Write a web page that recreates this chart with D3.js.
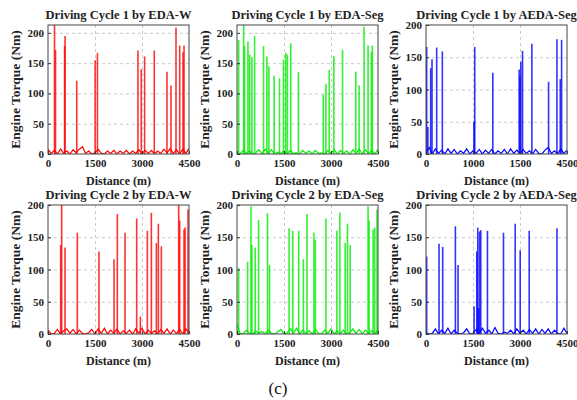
<!DOCTYPE html>
<html>
<head>
<meta charset="utf-8">
<script src="https://cdn.jsdelivr.net/npm/d3@7"></script>
<style>
    body { margin: 0; background: #fff; }
    svg text { font-family: "Liberation Serif", "Times New Roman", serif; }
    .grid line { stroke: #bdbdbd; stroke-dasharray: 3,3; stroke-width: 0.8; }
    .grid path { display: none; }
</style>
</head>
<body>
<svg id="chart" width="577" height="400"></svg>
<script>
// Tick values and labels
const xTicks = [0, 1500, 3000, 4500];
const xLabelsDefault = ['0', '1500', '3000', '4500'];
const xLabelsC1Aeda = ['0', '1000', '1500', '4500'];   // as printed in the original
const yTicks = [0, 50, 100, 150, 200];

// Baseline torque, sampled every 100 m from 0 to 4500 m
const baseDistance = d3.range(0, 4501, 100);
const c1EdaWBase   = [8,1,6,0,8,1,5,0,7,2,8,12,1,5,0,2,8,1,0,5,1,6,0,5,1,6,0,5,1,7,0,6,1,6,0,5,1,8,2,9,1,7,0,8,1,9];
const c1EdaSegBase = [2,0,6,1,5,0,2,7,0,8,1,7,0,3,1,5,0,6,1,2,0,6,1,5,0,6,1,2,0,6,1,7,0,6,1,5,0,7,1,8,0,7,1,6,0,8];
const c1AedaBase   = [2,10,0,8,1,6,0,8,1,7,0,5,1,8,0,5,1,7,0,6,1,7,0,5,1,7,0,8,1,6,0,7,1,5,0,7,1,0,6,10,1,5,0,8,1,6];
const c2EdaWBase   = [6,0,1,7,0,5,8,1,7,0,6,1,0,2,7,0,8,1,9,0,6,1,8,0,5,1,6,0,8,1,9,0,6,1,5,0,7,1,8,0,6,1,7,0,8,1];
const c2EdaSegBase = [15,1,0,6,1,0,5,1,4,0,6,1,0,3,7,0,2,8,1,9,0,6,1,5,0,7,1,0,6,1,8,0,5,1,6,0,2,8,1,7,0,6,1,5,0,7];
const c2AedaBase   = [2,0,1,8,0,6,1,9,0,6,1,0,2,8,0,1,7,0,9,1,6,0,10,1,0,3,1,6,0,8,1,6,0,7,1,8,0,7,1,8,0,6,1,0,9,1];

// Torque peaks: [distance (m), torque (Nm)]
const c1EdaWPeaks = [
    [208, 215], [240, 172], [530, 178], [544, 195], [918, 121], [1504, 155], [1578, 167],
    [2870, 171], [2976, 140], [3083, 161], [3392, 171], [3797, 136], [3925, 113],
    [4085, 209], [4203, 179], [4309, 168], [4341, 179]
];
const c1EdaSegPeaks = [
    [53, 188], [212, 215], [240, 178], [350, 186], [402, 164], [476, 160], [561, 195],
    [847, 178], [953, 161], [1017, 145], [1186, 129], [1355, 125], [1483, 156],
    [1557, 167], [1610, 164], [1716, 183], [1959, 135], [2753, 98], [2838, 116],
    [2944, 139], [3092, 162], [3368, 172], [3791, 136], [3897, 113], [4056, 210],
    [4183, 179], [4289, 168], [4320, 179]
];
const c1AedaPeaks = [
    [21, 166], [60, 42], [149, 133], [192, 147], [341, 165], [522, 159], [1530, 50],
    [1556, 166], [2132, 126], [2974, 131], [3000, 120], [3027, 143], [3081, 160],
    [3379, 171], [3912, 112], [4179, 178], [4285, 116], [4328, 177]
];
const c2EdaWPeaks = [
    [404, 138], [436, 200], [543, 134], [936, 157], [1628, 128], [2107, 116], [2213, 186],
    [2458, 157], [2830, 179], [2947, 27], [3171, 160], [3298, 188], [3458, 141],
    [3522, 171], [3618, 136], [4171, 200], [4203, 176], [4341, 162], [4373, 165], [4469, 193]
];
const c2EdaSegPeaks = [
    [53, 102], [339, 112], [445, 198], [476, 138], [582, 134], [688, 177], [974, 187],
    [1038, 107], [1663, 164], [1779, 160], [1970, 160], [2118, 116], [2234, 186],
    [2457, 157], [2499, 146], [2838, 179], [3187, 160], [3283, 188], [3452, 141],
    [3526, 171], [3611, 138], [4183, 198], [4215, 176], [4342, 162], [4395, 165], [4469, 193]
];
const c2AedaPeaks = [
    [21, 120], [416, 140], [533, 135], [938, 167], [1023, 107], [1535, 43], [1620, 128],
    [1652, 165], [1680, 40], [1706, 159], [1748, 161], [1961, 160], [2473, 157],
    [2846, 171], [3006, 130], [3294, 160], [4179, 164]
];

const titles = [
    'Driving Cycle 1 by EDA-W', 'Driving Cycle 1 by EDA-Seg', 'Driving Cycle 1 by AEDA-Seg',
    'Driving Cycle 2 by EDA-W', 'Driving Cycle 2 by EDA-Seg', 'Driving Cycle 2 by AEDA-Seg'
];
const colors = ['#ff0000', '#00ee00', '#0000ff'];

const panels = [
    { title: titles[0], base: c1EdaWBase,   peaks: c1EdaWPeaks,   yMax: 213, xLabels: xLabelsDefault, color: colors[0] },
    { title: titles[1], base: c1EdaSegBase, peaks: c1EdaSegPeaks, yMax: 213, xLabels: xLabelsDefault, color: colors[1] },
    { title: titles[2], base: c1AedaBase,   peaks: c1AedaPeaks,   yMax: 200, xLabels: xLabelsC1Aeda,  color: colors[2] },
    { title: titles[3], base: c2EdaWBase,   peaks: c2EdaWPeaks,   yMax: 200, xLabels: xLabelsDefault, color: colors[0] },
    { title: titles[4], base: c2EdaSegBase, peaks: c2EdaSegPeaks, yMax: 200, xLabels: xLabelsDefault, color: colors[1] },
    { title: titles[5], base: c2AedaBase,   peaks: c2AedaPeaks,   yMax: 200, xLabels: xLabelsDefault, color: colors[2] }
];

// Layout
const colLeft = [48, 237, 426];
const rowTop = [25, 205];
const plotW = 141;
const plotH = 129;

const svg = d3.select('#chart');

panels.forEach((p, i) => {
    const col = i % 3;
    const row = Math.floor(i / 3);
    const g = svg.append('g')
        .attr('transform', `translate(${colLeft[col]},${rowTop[row]})`);

    const x = d3.scaleLinear().domain([0, 4500]).range([0, plotW]);
    const y = d3.scaleLinear().domain([0, p.yMax]).range([plotH, 0]);

    // Dashed grid
    g.append('g')
        .attr('class', 'grid')
        .attr('transform', `translate(0,${plotH})`)
        .call(d3.axisBottom(x).tickValues(xTicks.slice(1, -1)).tickSize(-plotH).tickFormat(''));
    g.append('g')
        .attr('class', 'grid')
        .call(d3.axisLeft(y).tickValues(yTicks.slice(1).filter(v => v < p.yMax)).tickSize(-plotW).tickFormat(''));

    const clipId = `clip${i}`;
    g.append('clipPath').attr('id', clipId)
        .append('rect').attr('width', plotW).attr('height', plotH);

    const plot = g.append('g').attr('clip-path', `url(#${clipId})`);

    // Baseline torque trace
    const line = d3.line()
        .x((d, k) => x(baseDistance[k]))
        .y(d => y(d));
    plot.append('path')
        .datum(p.base)
        .attr('d', line)
        .attr('fill', 'none')
        .attr('stroke', p.color)
        .attr('stroke-width', 1.2);

    // Torque peaks
    plot.selectAll('.peak')
        .data(p.peaks)
        .join('line')
        .attr('class', 'peak')
        .attr('x1', d => x(d[0]))
        .attr('x2', d => x(d[0]))
        .attr('y1', y(0))
        .attr('y2', d => y(d[1]))
        .attr('stroke', p.color)
        .attr('stroke-width', 1.6)
        .attr('stroke-opacity', 0.8);

    // Axes
    const xAxis = g.append('g')
        .attr('transform', `translate(0,${plotH})`)
        .call(d3.axisBottom(x).tickValues(xTicks).tickSize(-3).tickPadding(5)
            .tickFormat((d, k) => p.xLabels[k]));
    const yAxis = g.append('g')
        .call(d3.axisLeft(y).tickValues(yTicks).tickSize(-3).tickPadding(4));

    [xAxis, yAxis].forEach(a => {
        a.select('.domain').remove();
        a.selectAll('.tick line').attr('stroke', '#333');
        a.selectAll('text')
            .attr('font-size', 11)
            .attr('font-weight', 'bold')
            .attr('fill', '#222')
            .style('font-family', '"Liberation Serif", serif');
    });

    // Box
    g.append('rect')
        .attr('width', plotW)
        .attr('height', plotH)
        .attr('fill', 'none')
        .attr('stroke', '#444')
        .attr('stroke-width', 1);

    // Title
    g.append('text')
        .attr('x', plotW / 2)
        .attr('y', -6)
        .attr('text-anchor', 'middle')
        .attr('font-size', 12.5)
        .attr('font-weight', 'bold')
        .attr('fill', '#222')
        .text(p.title);

    // Axis labels
    g.append('text')
        .attr('x', plotW / 2)
        .attr('y', plotH + 31)
        .attr('text-anchor', 'middle')
        .attr('font-size', 12)
        .attr('font-weight', 'bold')
        .attr('fill', '#222')
        .text('Distance (m)');

    g.append('text')
        .attr('transform', `translate(-28,${plotH / 2}) rotate(-90)`)
        .attr('text-anchor', 'middle')
        .attr('font-size', 13.5)
        .attr('font-weight', 'bold')
        .attr('fill', '#222')
        .text('Engine Torque (Nm)');
});

// Caption
svg.append('text')
    .attr('x', 278)
    .attr('y', 394)
    .attr('text-anchor', 'middle')
    .attr('font-size', 17)
    .attr('fill', '#111')
    .text('(c)');
</script>
</body>
</html>
